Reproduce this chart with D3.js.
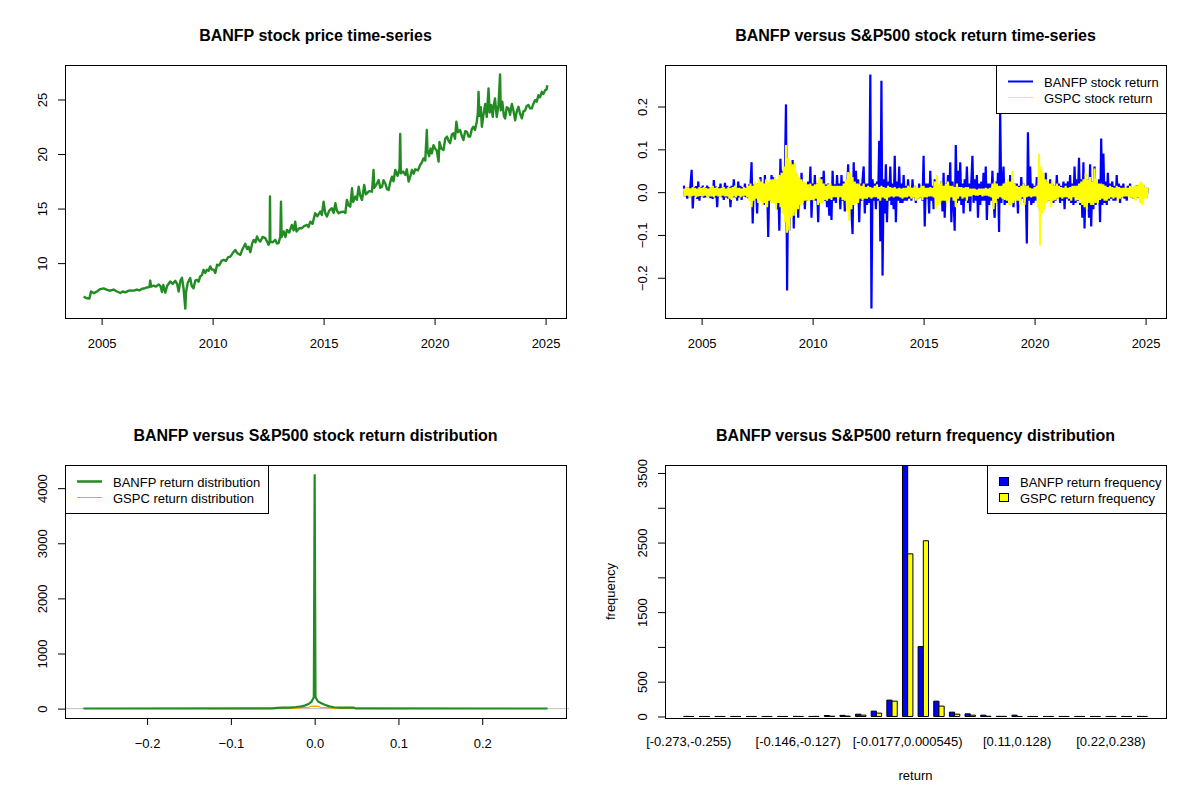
<!DOCTYPE html>
<html>
<head>
<meta charset="utf-8">
<script src="https://cdn.jsdelivr.net/npm/d3@7"></script>
<style>
  body { margin: 0; background: #ffffff; }
</style>
</head>
<body>
<script>
// ---------------- data ----------------
// BANFP closing price (decimal year, price)
var priceYears = [
  2004.19, 2004.30, 2004.45, 2004.52, 2004.65, 2004.79, 2004.94, 2005.09, 2005.25, 2005.39,
  2005.54, 2005.69, 2005.84, 2005.95, 2006.07, 2006.20, 2006.29, 2006.45, 2006.59, 2006.70,
  2006.82, 2006.95, 2007.04, 2007.15, 2007.19, 2007.23, 2007.34, 2007.45, 2007.57, 2007.65,
  2007.72, 2007.78, 2007.87, 2007.95, 2008.09, 2008.20, 2008.32, 2008.40, 2008.47, 2008.55,
  2008.62, 2008.69, 2008.77, 2008.80, 2008.88, 2008.99, 2009.06, 2009.14, 2009.22, 2009.29,
  2009.37, 2009.44, 2009.52, 2009.59, 2009.67, 2009.74, 2009.82, 2009.89, 2009.97, 2010.05,
  2010.12, 2010.20, 2010.30, 2010.40, 2010.50, 2010.60, 2010.70, 2010.80, 2010.90, 2011.02,
  2011.12, 2011.25, 2011.35, 2011.47, 2011.55, 2011.62, 2011.70, 2011.78, 2011.85, 2011.93,
  2012.00, 2012.08, 2012.15, 2012.25, 2012.37, 2012.45, 2012.52, 2012.57, 2012.585, 2012.60,
  2012.70, 2012.82, 2012.90, 2012.97, 2013.05, 2013.08, 2013.11, 2013.20, 2013.28, 2013.35,
  2013.45, 2013.57, 2013.65, 2013.72, 2013.78, 2013.90, 2014.02, 2014.12, 2014.25, 2014.32,
  2014.40, 2014.50, 2014.62, 2014.72, 2014.85, 2014.92, 2015.00, 2015.07, 2015.15, 2015.25,
  2015.37, 2015.45, 2015.53, 2015.60, 2015.68, 2015.80, 2015.90, 2015.98, 2016.05, 2016.12,
  2016.20, 2016.28, 2016.33, 2016.43, 2016.50, 2016.58, 2016.65, 2016.73, 2016.83, 2016.90,
  2016.95, 2017.05, 2017.18, 2017.25, 2017.28, 2017.38, 2017.48, 2017.55, 2017.63, 2017.70,
  2017.78, 2017.85, 2017.93, 2018.00, 2018.08, 2018.15, 2018.23, 2018.33, 2018.42, 2018.45,
  2018.48, 2018.58, 2018.68, 2018.75, 2018.83, 2018.90, 2018.98, 2019.06, 2019.13, 2019.25,
  2019.35, 2019.42, 2019.50, 2019.58, 2019.65, 2019.68, 2019.75, 2019.82, 2019.88, 2019.95,
  2020.02, 2020.10, 2020.18, 2020.22, 2020.30, 2020.40, 2020.48, 2020.56, 2020.63, 2020.70,
  2020.78, 2020.85, 2020.92, 2020.98, 2021.05, 2021.15, 2021.22, 2021.30, 2021.38, 2021.46,
  2021.53, 2021.60, 2021.68, 2021.75, 2021.82, 2021.90, 2021.95, 2021.98, 2022.02, 2022.08,
  2022.13, 2022.20, 2022.28, 2022.35, 2022.43, 2022.48, 2022.55, 2022.62, 2022.66, 2022.72,
  2022.80, 2022.88, 2022.95, 2022.98, 2023.05, 2023.12, 2023.18, 2023.25, 2023.33, 2023.40,
  2023.48, 2023.55, 2023.63, 2023.70, 2023.78, 2023.85, 2023.93, 2024.00, 2024.08, 2024.15,
  2024.23, 2024.30, 2024.38, 2024.45, 2024.53, 2024.60, 2024.68, 2024.75, 2024.83, 2024.90,
  2024.98, 2025.04, 2025.08
];
var priceValues = [
  6.95, 6.80, 6.75, 7.40, 7.25, 7.40, 7.62, 7.68, 7.55, 7.47,
  7.58, 7.40, 7.26, 7.40, 7.32, 7.45, 7.50, 7.48, 7.58, 7.50,
  7.65, 7.70, 7.77, 7.80, 8.40, 7.85, 7.93, 7.85, 8.05, 7.90,
  7.35, 8.00, 7.30, 7.90, 8.32, 8.10, 8.38, 8.10, 7.40, 8.40,
  8.65, 7.70, 5.83, 7.30, 8.20, 8.63, 7.90, 7.70, 8.40, 8.47,
  8.30, 8.78, 8.90, 9.39, 9.10, 9.40, 9.30, 9.70, 9.40, 9.40,
  9.10, 9.85, 9.80, 10.20, 10.30, 10.20, 10.55, 10.60, 10.90, 11.20,
  10.90, 10.76, 11.30, 11.77, 11.30, 11.50, 11.00, 11.80, 12.13, 11.90,
  12.44, 12.10, 11.98, 12.40, 12.29, 12.00, 11.68, 11.90, 16.10, 12.00,
  11.90, 12.13, 11.80, 11.83, 12.40, 15.64, 12.40, 12.90, 12.40, 13.05,
  12.80, 13.50, 13.00, 13.80, 12.90, 13.20, 13.20, 13.40, 13.50, 13.30,
  13.80, 13.60, 14.57, 14.30, 14.72, 14.40, 15.64, 14.60, 14.27, 14.80,
  15.03, 14.60, 15.49, 14.80, 14.57, 14.70, 14.72, 14.60, 15.79, 15.30,
  15.18, 16.86, 15.60, 16.10, 15.80, 17.00, 16.20, 15.79, 17.16, 16.30,
  16.40, 16.60, 16.55, 18.54, 16.90, 17.20, 17.62, 16.90, 17.00, 17.60,
  17.30, 16.80, 16.70, 17.40, 17.93, 17.50, 18.54, 18.00, 18.60, 21.83,
  18.23, 18.40, 18.08, 18.60, 17.47, 17.90, 18.54, 18.20, 18.60, 18.50,
  19.00, 19.20, 19.60, 19.40, 22.20, 20.37, 19.80, 20.50, 20.06, 20.80,
  20.52, 20.30, 19.30, 21.10, 20.50, 20.37, 21.40, 21.60, 21.20, 21.00,
  21.80, 21.90, 21.40, 22.96, 22.00, 22.20, 21.70, 21.28, 22.10, 22.04,
  21.60, 21.60, 22.30, 22.50, 22.20, 22.96, 23.80, 25.70, 23.50, 24.30,
  22.50, 23.60, 24.60, 23.40, 26.00, 23.80, 24.50, 23.40, 24.33, 25.10,
  23.40, 24.50, 27.30, 24.00, 24.80, 23.50, 23.26, 24.30, 24.18, 23.60,
  24.60, 24.00, 23.10, 23.90, 24.33, 23.70, 23.26, 23.90, 24.00, 24.40,
  24.50, 24.20, 24.18, 24.60, 24.94, 24.80, 25.40, 25.20, 25.70, 25.50,
  25.85, 25.90, 26.30
];

// returns sampled every 0.05 year from 2004.2 (one row = one year)
var returnStartYear = 2004.2;
var returnStepYears = 0.05;
var banfpReturns = [
  0.015, -0.01, 0.012, -0.015, 0.01, -0.012, 0.018, 0.052, -0.038, 0.012, -0.01, 0.014, -0.016, 0.025, -0.02, 0.012, -0.01, 0.015, -0.013, 0.011,
  -0.012, 0.015, -0.01, 0.012, -0.014, 0.01, -0.016, 0.028, -0.012, 0.013, -0.035, 0.012, -0.01, 0.02, -0.012, 0.01, -0.018, 0.022, -0.012, 0.015,
  -0.015, 0.012, -0.035, 0.015, -0.012, 0.03, -0.012, 0.01, -0.02, 0.025, -0.012, 0.015, -0.018, 0.012, -0.01, 0.02, -0.012, 0.01, -0.014, 0.016,
  0.015, 0.07, -0.073, 0.018, -0.015, 0.012, -0.05, 0.02, -0.015, 0.035, -0.018, 0.015, -0.03, 0.04, -0.015, 0.02, -0.105, 0.018, -0.02, 0.04,
  -0.02, 0.035, -0.02, 0.025, -0.04, 0.02, -0.09, 0.078, -0.025, 0.05, -0.03, 0.04, 0.205, -0.23, 0.04, -0.09, 0.03, -0.05, 0.075, -0.085,
  0.06, -0.03, 0.03, -0.06, 0.02, -0.025, 0.045, -0.02, 0.02, -0.04, 0.018, -0.02, 0.025, -0.018, 0.06, -0.06, 0.02, -0.02, 0.04, -0.02,
  0.02, -0.07, 0.018, -0.02, 0.035, -0.015, 0.05, -0.02, 0.018, -0.035, 0.02, -0.055, 0.015, -0.065, 0.05, -0.02, 0.018, -0.025, 0.04, -0.015,
  0.02, -0.04, 0.04, -0.02, 0.025, -0.045, 0.015, -0.02, 0.065, -0.025, 0.02, -0.05, -0.098, 0.07, -0.025, 0.05, -0.02, 0.03, -0.07, 0.02,
  -0.02, 0.03, 0.06, -0.05, 0.02, -0.03, 0.02, -0.025, 0.275, -0.272, 0.03, -0.02, 0.02, -0.04, 0.025, -0.02, 0.12, -0.115, 0.26, -0.195,
  0.03, -0.05, 0.065, -0.07, 0.025, -0.02, 0.06, -0.03, 0.02, -0.04, 0.085, -0.07, 0.025, -0.02, 0.06, -0.025, 0.02, -0.025, 0.04, -0.02,
  0.015, -0.02, 0.03, -0.015, 0.012, -0.02, 0.03, -0.012, 0.015, -0.025, 0.012, -0.015, 0.02, -0.012, 0.015, -0.02, 0.085, -0.08, 0.02, -0.015,
  0.02, -0.05, 0.05, -0.02, 0.015, -0.04, 0.03, -0.015, 0.02, -0.025, 0.015, -0.02, 0.025, -0.045, 0.045, -0.06, 0.02, -0.02, 0.04, -0.015,
  0.07, -0.07, 0.025, -0.02, -0.09, 0.11, -0.025, 0.05, -0.02, 0.07, -0.03, 0.02, -0.05, 0.03, -0.02, 0.06, -0.025, 0.02, -0.045, 0.025,
  0.085, -0.025, 0.03, -0.02, 0.04, -0.06, 0.02, -0.03, 0.025, -0.02, 0.045, -0.02, 0.06, -0.065, 0.02, -0.03, 0.02, -0.02, 0.05, -0.02,
  -0.06, 0.025, -0.02, 0.045, -0.093, 0.19, -0.025, 0.02, 0.06, -0.03, 0.02, -0.025, 0.015, -0.02, 0.04, -0.02, 0.015, -0.035, 0.02, -0.015,
  0.02, -0.05, 0.015, -0.02, 0.035, -0.015, 0.02, -0.025, 0.015, -0.12, 0.14, -0.02, 0.06, -0.03, 0.02, -0.025, 0.015, -0.02, 0.035, -0.015,
  0.02, -0.05, 0.025, -0.02, 0.015, -0.025, 0.045, -0.02, 0.015, -0.02, 0.03, -0.015, 0.02, -0.025, 0.015, -0.02, 0.04, -0.015, 0.02, -0.025,
  0.015, -0.02, 0.025, -0.04, 0.02, -0.015, 0.025, -0.02, 0.04, -0.025, 0.02, -0.03, 0.06, -0.025, 0.03, -0.02, 0.08, -0.03, 0.03, -0.06,
  0.07, -0.085, 0.03, -0.025, 0.03, -0.06, 0.065, -0.08, 0.025, -0.04, 0.06, -0.03, 0.02, -0.025, 0.03, -0.07, 0.125, -0.03, 0.09, -0.025,
  0.025, -0.03, 0.045, -0.02, 0.02, -0.015, 0.025, -0.02, 0.015, -0.02, 0.04, -0.015, 0.02, -0.025, 0.015, -0.012, 0.02, -0.015, 0.012, -0.02,
  0.015, -0.01, 0.02, -0.012, 0.01, -0.015, 0.012, -0.01, 0.015, -0.012, 0.01, -0.015, 0.012, -0.01, 0.015, -0.012, 0.01, -0.012, 0.01
];
var gspcReturns = [
  0.008, -0.01, 0.012, -0.008, 0.01, -0.012, 0.009, -0.01, 0.012, -0.008, 0.01, -0.012, 0.008, -0.01, 0.012, -0.009, 0.01, -0.01, 0.012, -0.008,
  0.01, -0.012, 0.008, -0.01, 0.012, -0.01, 0.015, -0.012, 0.01, -0.008, 0.012, -0.01, 0.009, -0.012, 0.01, -0.008, 0.012, -0.01, 0.008, -0.01,
  0.012, -0.015, 0.01, -0.018, 0.012, -0.01, 0.015, -0.012, 0.01, -0.008, 0.01, -0.012, 0.008, -0.01, 0.012, -0.008, 0.01, -0.012, 0.015, -0.02,
  0.02, -0.035, 0.015, -0.02, 0.025, -0.015, 0.02, -0.025, 0.03, -0.02, 0.025, -0.03, 0.02, -0.025, 0.03, -0.035, 0.025, -0.02, 0.03, -0.025,
  0.03, -0.025, 0.035, -0.04, 0.03, -0.025, 0.04, -0.035, 0.045, -0.05, 0.06, -0.07, 0.11, -0.095, 0.08, -0.09, 0.07, -0.06, 0.065, -0.055,
  0.07, -0.05, 0.045, -0.04, 0.035, -0.03, 0.03, -0.025, 0.025, -0.02, 0.022, -0.02, 0.018, -0.022, 0.02, -0.018, 0.015, -0.02, 0.018, -0.015,
  0.02, -0.03, 0.035, -0.025, 0.03, -0.025, 0.02, -0.018, 0.015, -0.02, 0.018, -0.015, 0.02, -0.018, 0.015, -0.012, 0.015, -0.012, 0.015, -0.018,
  0.015, -0.012, 0.015, -0.018, 0.02, -0.02, 0.03, -0.045, 0.047, -0.067, 0.045, -0.04, 0.035, -0.03, 0.025, -0.025, 0.02, -0.025, 0.02, -0.015,
  0.015, -0.018, 0.02, -0.015, 0.012, -0.015, 0.015, -0.012, 0.012, -0.015, 0.01, -0.012, 0.015, -0.012, 0.018, -0.015, 0.012, -0.02, 0.015, -0.012,
  0.012, -0.015, 0.01, -0.02, 0.015, -0.012, 0.012, -0.01, 0.01, -0.012, 0.012, -0.01, 0.008, -0.01, 0.01, -0.012, 0.008, -0.015, 0.01, -0.012,
  0.01, -0.012, 0.015, -0.01, 0.012, -0.015, 0.01, -0.012, 0.015, -0.02, 0.012, -0.015, 0.01, -0.012, 0.015, -0.018, 0.015, -0.012, 0.01, -0.012,
  0.01, -0.01, 0.012, -0.01, 0.01, -0.012, 0.025, -0.04, 0.04, -0.03, 0.02, -0.025, 0.025, -0.02, 0.015, -0.02, 0.02, -0.025, 0.025, -0.02,
  0.015, -0.012, 0.015, -0.02, 0.012, -0.035, 0.02, -0.015, 0.012, -0.01, 0.012, -0.015, 0.01, -0.012, 0.012, -0.02, 0.012, -0.01, 0.008, -0.01,
  0.008, -0.006, 0.008, -0.008, 0.006, -0.008, 0.008, -0.006, 0.008, -0.01, 0.008, -0.008, 0.01, -0.008, 0.008, -0.01, 0.01, -0.012, 0.02, -0.04,
  0.025, -0.025, 0.02, -0.015, 0.015, -0.012, 0.015, -0.015, 0.02, -0.018, 0.025, -0.02, 0.03, -0.03, 0.025, -0.03, 0.05, -0.025, 0.02, -0.02,
  0.015, -0.02, 0.012, -0.03, 0.015, -0.012, 0.02, -0.03, 0.015, -0.012, 0.015, -0.01, 0.01, -0.012, 0.008, -0.01, 0.012, -0.01, 0.015, -0.035,
  0.09, -0.125, 0.06, -0.05, 0.045, -0.04, 0.03, -0.025, 0.025, -0.02, 0.02, -0.035, 0.025, -0.02, 0.015, -0.018, 0.02, -0.015, 0.015, -0.012,
  0.012, -0.015, 0.01, -0.012, 0.015, -0.012, 0.01, -0.015, 0.012, -0.02, 0.015, -0.012, 0.015, -0.02, 0.015, -0.018, 0.02, -0.025, 0.025, -0.03,
  0.03, -0.035, 0.045, -0.04, 0.03, -0.025, 0.035, -0.03, 0.025, -0.03, 0.055, -0.025, 0.03, -0.025, 0.02, -0.018, 0.02, -0.015, 0.018, -0.02,
  0.015, -0.02, 0.012, -0.015, 0.015, -0.012, 0.012, -0.015, 0.01, -0.012, 0.015, -0.02, 0.012, -0.015, 0.01, -0.012, 0.01, -0.01, 0.012, -0.01,
  0.01, -0.012, 0.015, -0.012, 0.012, -0.015, 0.015, -0.02, 0.015, -0.012, 0.02, -0.025, 0.025, -0.03, 0.02, -0.015, 0.012, -0.015, 0.01
];

// kernel density estimates of the returns
var banfpDensX = [-0.276, -0.05, -0.045, -0.038, -0.03, -0.022, -0.016, -0.012, -0.008, -0.004, -0.001, 0, 0.001, 0.004, 0.008, 0.012, 0.0175, 0.023, 0.03, 0.038, 0.046, 0.05, 0.278];
var banfpDensY = [2, 3, 12, 18, 20, 30, 42, 55, 78, 120, 206, 4250, 206, 130, 97, 70, 42, 25, 20, 18, 18, 3, 2];
var gspcDensX = [-0.127, -0.02, -0.017, -0.012, -0.007, -0.005, 0, 0.005, 0.007, 0.012, 0.017, 0.02, 0.11];
var gspcDensY = [0, 2, 18, 18, 20, 42, 45, 42, 20, 18, 18, 2, 0];

// histogram of returns in 30 intervals
var binLabels = [
  "[-0.273,-0.255)", "[-0.255,-0.237)", "[-0.237,-0.218)", "[-0.218,-0.2)", "[-0.2,-0.182)",
  "[-0.182,-0.164)", "[-0.164,-0.146)", "[-0.146,-0.127)", "[-0.127,-0.109)", "[-0.109,-0.0907)",
  "[-0.0907,-0.0725)", "[-0.0725,-0.0542)", "[-0.0542,-0.036)", "[-0.036,-0.0177)", "[-0.0177,0.000545)",
  "[0.000545,0.0188)", "[0.0188,0.037)", "[0.037,0.0553)", "[0.0553,0.0735)", "[0.0735,0.0918)",
  "[0.0918,0.11)", "[0.11,0.128)", "[0.128,0.146)", "[0.146,0.165)", "[0.165,0.183)",
  "[0.183,0.201)", "[0.201,0.22)", "[0.22,0.238)", "[0.238,0.256)", "[0.256,0.275)"
];
var shownBinLabels = [0, 7, 14, 21, 27];
var banfpFreq = [1, 0, 0, 0, 0, 0, 0, 1, 0, 14, 16, 33, 77, 235, 3640, 1005, 220, 62, 38, 19, 2, 19, 0, 0, 0, 0, 0, 0, 0, 1];
var gspcFreq = [0, 0, 0, 0, 0, 0, 0, 0, 1, 3, 5, 19, 48, 220, 2338, 2526, 149, 33, 19, 3, 1, 0, 0, 0, 0, 0, 0, 0, 0, 0];

// tick values
var yearTicks = [2005, 2010, 2015, 2020, 2025];
var priceTicks = [10, 15, 20, 25];
var returnTicks = [-0.2, -0.1, 0, 0.1, 0.2];
var densXTicks = [-0.2, -0.1, 0, 0.1, 0.2];
var densYTicks = [0, 1000, 2000, 3000, 4000];
var freqTicks = [0, 500, 1000, 1500, 2000, 2500, 3000, 3500];
var freqTickLabels = [0, 500, 1500, 2500, 3500];

// ---------------- layout ----------------
var FONT = '"Liberation Sans", Arial, Helvetica, sans-serif';
var boxW = 501, boxH = 253;

var svg = d3.select("body").append("svg")
  .attr("width", 1200)
  .attr("height", 800)
  .style("font-family", FONT);

function panel(left, top, title) {
  var g = svg.append("g").attr("transform", "translate(" + left + "," + top + ")");
  g.append("text")
    .attr("x", boxW / 2)
    .attr("y", -24.5)
    .attr("text-anchor", "middle")
    .attr("font-weight", "bold")
    .attr("font-size", 16)
    .text(title);
  return g;
}

// R style axes: ticks outward, y labels turned parallel to the axis
function bottomAxis(g, scale, ticks, fmt) {
  var a = g.append("g")
    .attr("transform", "translate(0," + boxH + ")")
    .call(d3.axisBottom(scale).tickValues(ticks).tickSize(7).tickFormat(fmt));
  a.attr("font-family", FONT).attr("font-size", 13);
  a.select(".domain").remove();
  a.selectAll("line").attr("stroke", "#000");
  a.selectAll("text").attr("y", 29.5).attr("dy", null).attr("fill", "#000");
}

function leftAxis(g, scale, ticks, fmt) {
  var a = g.append("g")
    .call(d3.axisLeft(scale).tickValues(ticks).tickSize(7).tickFormat(fmt));
  a.attr("font-family", FONT).attr("font-size", 13);
  a.select(".domain").remove();
  a.selectAll("line").attr("stroke", "#000");
  a.selectAll("text")
    .attr("x", null)
    .attr("dy", null)
    .attr("text-anchor", "middle")
    .attr("fill", "#000")
    .attr("transform", "translate(-18,0) rotate(-90)");
}

function box(g) {
  g.append("rect")
    .attr("x", 0.5).attr("y", 0.5)
    .attr("width", boxW).attr("height", boxH)
    .attr("fill", "none")
    .attr("stroke", "#000")
    .attr("shape-rendering", "crispEdges");
}

function legend(g, x, w, items) {
  var lg = g.append("g").attr("transform", "translate(" + x + ",0)");
  lg.append("rect")
    .attr("x", 0.5).attr("y", 0.5)
    .attr("width", w).attr("height", 48)
    .attr("fill", "#fff")
    .attr("stroke", "#000")
    .attr("shape-rendering", "crispEdges");
  items.forEach(function (it, i) {
    var cy = 16 + i * 16;
    if (it.fill) {
      lg.append("rect")
        .attr("x", 12.5).attr("y", cy - 3.5)
        .attr("width", 9).attr("height", 8)
        .attr("fill", it.fill)
        .attr("stroke", "#000");
    } else {
      lg.append("line")
        .attr("x1", 12).attr("x2", 37)
        .attr("y1", cy + 0.5).attr("y2", cy + 0.5)
        .attr("stroke", it.stroke)
        .attr("stroke-width", it.width);
    }
    lg.append("text")
      .attr("x", it.fill ? 33 : 48)
      .attr("y", cy + 6)
      .attr("font-size", 13)
      .text(it.label);
  });
}

var fmt1 = d3.format(".1f");
var fmtInt = d3.format("d");

// ---------------- panel 1: price ----------------
var p1 = panel(65, 65, "BANFP stock price time-series");
var xYear = d3.scaleLinear().domain([2003.35, 2025.92]).range([0, boxW]);
var yPrice = d3.scaleLinear().domain([4.97, 28.16]).range([boxH, 0]);

var priceLine = d3.line()
  .x(function (d) { return xYear(d[0]); })
  .y(function (d) { return yPrice(d[1]); });

p1.append("path")
  .datum(d3.zip(priceYears, priceValues))
  .attr("d", priceLine)
  .attr("fill", "none")
  .attr("stroke", "#228B22")
  .attr("stroke-width", 2.4)
  .attr("stroke-linejoin", "round");

bottomAxis(p1, xYear, yearTicks, fmtInt);
leftAxis(p1, yPrice, priceTicks, fmtInt);
box(p1);

// ---------------- panel 2: returns ----------------
var p2 = panel(665, 65, "BANFP versus S&P500 stock return time-series");
var yRet = d3.scaleLinear().domain([-0.294, 0.297]).range([boxH, 0]);

var retLine = d3.line()
  .x(function (d, i) { return xYear(returnStartYear + i * returnStepYears); })
  .y(function (d) { return yRet(d); });

p2.append("path")
  .datum(banfpReturns)
  .attr("d", retLine)
  .attr("fill", "none")
  .attr("stroke", "#0000FF")
  .attr("stroke-width", 2.2);

p2.append("path")
  .datum(gspcReturns)
  .attr("d", retLine)
  .attr("fill", "none")
  .attr("stroke", "#FFFF00")
  .attr("stroke-width", 2);

bottomAxis(p2, xYear, yearTicks, fmtInt);
leftAxis(p2, yRet, returnTicks, fmt1);
legend(p2, 331, 170, [
  { label: "BANFP stock return", stroke: "#0000FF", width: 2 },
  { label: "GSPC stock return", stroke: "#FFFF00", width: 1 }
]);
box(p2);

// ---------------- panel 3: density ----------------
var p3 = panel(65, 465, "BANFP versus S&P500 stock return distribution");
var xDens = d3.scaleLinear().domain([-0.298, 0.300]).range([0, boxW]);
var yDens = d3.scaleLinear().domain([-170, 4420]).range([boxH, 0]);

p3.append("line")
  .attr("x1", 0).attr("x2", boxW + 3)
  .attr("y1", yDens(0)).attr("y2", yDens(0))
  .attr("stroke", "#BEBEBE")
  .attr("stroke-width", 1);

var densLine = d3.line()
  .x(function (d) { return xDens(d[0]); })
  .y(function (d) { return yDens(d[1]); });

p3.append("path")
  .datum(d3.zip(gspcDensX, gspcDensY))
  .attr("d", densLine)
  .attr("fill", "none")
  .attr("stroke", "#FFA500")
  .attr("stroke-width", 1.2);

p3.append("path")
  .datum(d3.zip(banfpDensX, banfpDensY))
  .attr("d", densLine)
  .attr("fill", "none")
  .attr("stroke", "#228B22")
  .attr("stroke-width", 2.2);

bottomAxis(p3, xDens, densXTicks, fmt1);
leftAxis(p3, yDens, densYTicks, fmtInt);
legend(p3, 0, 203, [
  { label: "BANFP return distribution", stroke: "#228B22", width: 2.5 },
  { label: "GSPC return distribution", stroke: "#FFA500", width: 1 }
]);
box(p3);

// ---------------- panel 4: grouped frequency bars ----------------
var p4 = panel(665, 465, "BANFP versus S&P500 return frequency distribution");
// bar units as in R barplot(beside = TRUE): one bar per unit, one unit gap per group
var xBar = d3.scaleLinear().domain([-2.56, 93.56]).range([0, boxW]);
var yFreq = d3.scaleLinear().domain([-22, 3615]).range([boxH, 0]);

p4.append("clipPath").attr("id", "clip4")
  .append("rect").attr("width", boxW).attr("height", boxH);

var bars = [];
binLabels.forEach(function (lab, i) {
  bars.push({ u: 1 + 3 * i, v: banfpFreq[i], c: "#0000FF" });
  bars.push({ u: 2 + 3 * i, v: gspcFreq[i], c: "#FFFF00" });
});

p4.append("g")
  .attr("clip-path", "url(#clip4)")
  .selectAll("path")
  .data(bars)
  .enter()
  .append("path")
  .attr("d", function (d) {
    var x0 = xBar(d.u), x1 = xBar(d.u + 1);
    var y0 = yFreq(0), y1 = yFreq(d.v);
    return "M" + x0 + "," + y0 + "H" + x1 + "V" + y1 + "H" + x0 + "Z";
  })
  .attr("fill", function (d) { return d.c; })
  .attr("stroke", "#000")
  .attr("stroke-width", 1);

p4.selectAll("text.bin")
  .data(shownBinLabels)
  .enter()
  .append("text")
  .attr("class", "bin")
  .attr("x", function (i) { return xBar(2 + 3 * i); })
  .attr("y", boxH + 28)
  .attr("text-anchor", "middle")
  .attr("font-size", 13)
  .text(function (i) { return binLabels[i]; });

leftAxis(p4, yFreq, freqTicks, function (v) {
  return freqTickLabels.indexOf(v) >= 0 ? fmtInt(v) : "";
});

p4.append("text")
  .attr("x", boxW / 2)
  .attr("y", boxH + 62)
  .attr("text-anchor", "middle")
  .attr("font-size", 13)
  .text("return");

p4.append("text")
  .attr("transform", "translate(-50," + boxH / 2 + ") rotate(-90)")
  .attr("text-anchor", "middle")
  .attr("font-size", 13)
  .text("frequency");

legend(p4, 322, 179, [
  { label: "BANFP return frequency", fill: "#0000FF" },
  { label: "GSPC return frequency", fill: "#FFFF00" }
]);
box(p4);
</script>
</body>
</html>
